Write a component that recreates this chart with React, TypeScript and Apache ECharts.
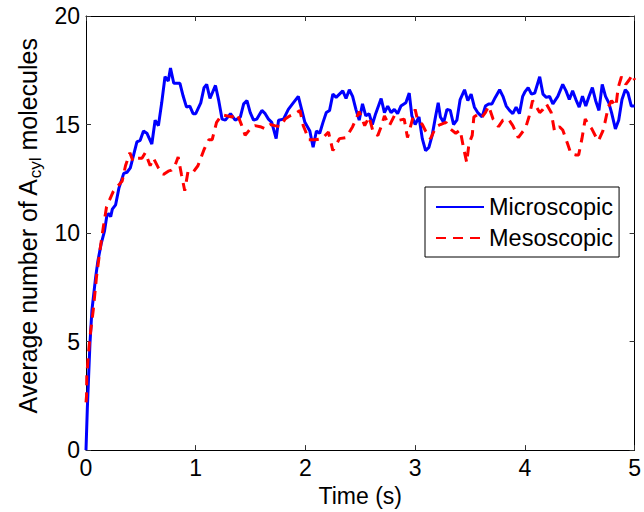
import React, { useEffect, useRef } from 'react';
import * as echarts from 'echarts';

const xTicks = [0, 1, 2, 3, 4, 5];
const yTicks = [0, 5, 10, 15, 20];
const seriesNames = ['Microscopic', 'Mesoscopic'];

const microT = [
  0, 0.012, 0.024, 0.036, 0.054, 0.088, 0.108, 0.138, 0.169, 0.19, 0.21, 0.225, 0.24, 0.27, 0.3,
  0.344, 0.374, 0.404, 0.434, 0.464, 0.494, 0.524, 0.555, 0.6, 0.63, 0.66, 0.69, 0.72, 0.75, 0.77,
  0.8, 0.826, 0.856, 0.886, 0.916, 0.946, 0.976, 1.0, 1.046, 1.076, 1.1, 1.13, 1.18, 1.21, 1.24,
  1.27, 1.317, 1.36, 1.407, 1.437, 1.467, 1.497, 1.527, 1.557, 1.603, 1.633, 1.663, 1.693, 1.733,
  1.755, 1.8, 1.844, 1.889, 1.935, 1.965, 1.995, 2.04, 2.07, 2.1, 2.13, 2.16, 2.19, 2.22, 2.25,
  2.28, 2.31, 2.34, 2.37, 2.4, 2.43, 2.46, 2.49, 2.52, 2.55, 2.58, 2.61, 2.64, 2.69, 2.72, 2.75,
  2.78, 2.81, 2.84, 2.87, 2.915, 2.946, 2.97, 3.0, 3.035, 3.065, 3.095, 3.125, 3.155, 3.185, 3.21,
  3.23, 3.26, 3.29, 3.32, 3.35, 3.38, 3.41, 3.45, 3.48, 3.51, 3.54, 3.57, 3.61, 3.64, 3.67, 3.7,
  3.73, 3.77, 3.8, 3.83, 3.86, 3.89, 3.92, 3.95, 3.98, 4.0, 4.03, 4.06, 4.09, 4.135, 4.165, 4.195,
  4.225, 4.255, 4.3, 4.345, 4.375, 4.405, 4.435, 4.465, 4.495, 4.525, 4.555, 4.585, 4.615, 4.645,
  4.675, 4.705, 4.735, 4.765, 4.79, 4.825, 4.855, 4.885, 4.915, 4.94, 4.97, 5.0,
];
const microV = [
  0, 1.9, 3.4, 4.9, 6.45, 7.97, 8.7, 9.5, 10.1, 10.8, 10.9, 10.75, 11.1, 11.3, 12.07,
  12.75, 12.8, 13.0, 13.6, 14.2, 14.27, 14.7, 14.6, 14.1, 15.2, 14.95, 16.0, 17.2, 17.0, 17.6,
  16.9, 16.9, 16.9, 16.3, 15.8, 15.85, 15.5, 15.5, 16.0, 16.7, 16.85, 16.2, 16.8, 16.1, 15.25,
  15.2, 15.5, 15.2, 15.35, 15.95, 16.1, 15.55, 15.2, 15.25, 15.65, 15.5, 15.25, 15.1, 14.35,
  15.2, 15.25, 15.7, 16.0, 16.3, 15.7, 15.1, 14.7, 13.95, 14.7, 14.6, 15.1, 15.55, 15.65, 16.4,
  16.25, 16.4, 16.55, 16.2, 16.6, 16.3, 15.7, 15.2, 15.95, 15.4, 15.5, 15.0, 15.5, 16.2, 15.55, 15.85,
  15.55, 15.7, 15.5, 15.85, 16.0, 16.45, 15.4, 15.0, 15.35, 14.35, 13.8, 13.95, 14.5, 15.35, 16.0,
  15.35, 15.1, 15.7, 15.65, 15.0, 15.2, 16.15, 16.6, 16.1, 16.4, 15.8, 15.55, 15.35, 15.85, 15.95, 15.95,
  16.25, 16.6, 16.3, 15.85, 15.65, 15.5, 15.8, 15.5, 16.3, 16.5, 16.7, 16.4, 16.45, 17.2, 16.4, 16.25,
  16.3, 15.95, 16.3, 16.85, 16.55, 16.15, 16.55, 16.15, 15.8, 16.3, 15.85, 16.3, 16.7, 16.1,
  15.65, 16.85, 16.3, 16.0, 15.55, 14.8, 15.2, 16.15, 16.6, 16.45, 15.85, 15.85,
];

const mesoT = [
  0, 0.005, 0.007, 0.02, 0.036, 0.066, 0.096, 0.127, 0.157, 0.187, 0.247, 0.28, 0.33, 0.36, 0.4,
  0.43, 0.464, 0.51, 0.54, 0.585, 0.615, 0.66, 0.705, 0.75, 0.78, 0.81, 0.84, 0.87, 0.9, 0.93,
  0.976, 1.02, 1.076, 1.12, 1.15, 1.19, 1.24, 1.287, 1.33, 1.377, 1.42, 1.45, 1.497, 1.54, 1.588,
  1.633, 1.678, 1.72, 1.77, 1.814, 1.86, 1.904, 1.95, 1.98, 2.0, 2.03, 2.09, 2.15, 2.21, 2.25,
  2.31, 2.37, 2.43, 2.49, 2.54, 2.58, 2.62, 2.66, 2.69, 2.72, 2.765, 2.81, 2.855, 2.9, 2.93, 2.96,
  3.0, 3.02, 3.065, 3.095, 3.14, 3.19, 3.23, 3.28, 3.32, 3.37, 3.41, 3.44, 3.47, 3.49, 3.52, 3.535,
  3.58, 3.61, 3.64, 3.67, 3.71, 3.76, 3.8, 3.85, 3.89, 3.94, 3.985, 4.01, 4.04, 4.07, 4.1, 4.135,
  4.165, 4.195, 4.24, 4.27, 4.315, 4.345, 4.39, 4.42, 4.465, 4.49, 4.52, 4.55, 4.58, 4.61, 4.65,
  4.67, 4.71, 4.73, 4.76, 4.79, 4.83, 4.85, 4.88, 4.92, 4.95, 4.98, 5.0,
];
const mesoV = [
  2.2, 2.5, 3.4, 4.3, 5.2, 6.45, 8.0, 9.2, 10.25, 11.2, 11.9, 12.1, 12.4, 13.1, 13.7,
  13.3, 13.45, 13.45, 13.7, 13.1, 13.45, 13.0, 12.7, 12.85, 12.9, 13.1, 13.5, 12.7, 11.95, 12.85,
  12.8, 13.1, 13.85, 14.3, 14.3, 15.1, 15.45, 15.4, 15.35, 15.5, 14.95, 14.5, 14.8, 14.95, 14.9,
  14.8, 15.0, 14.95, 14.9, 15.25, 15.4, 15.5, 15.65, 14.95, 14.7, 14.3, 14.3, 14.35, 14.65, 13.8,
  14.35, 14.4, 14.9, 15.6, 14.95, 15.35, 14.6, 14.5, 14.9, 15.4, 14.95, 15.4, 15.2, 15.25, 14.4, 14.95,
  15.7, 15.25, 15.0, 14.7, 14.35, 14.9, 15.0, 15.1, 14.8, 14.6, 14.75, 13.95, 13.25, 14.1, 14.5, 15.35,
  15.5, 15.35, 15.55, 15.85, 15.25, 14.9, 15.2, 15.25, 14.95, 14.4, 14.7, 14.9, 15.4, 16.1, 15.85, 15.55,
  15.7, 15.95, 15.55, 14.7, 14.9, 14.75, 14.1, 13.65, 13.6, 13.6, 14.35, 15.25, 15.0, 14.8, 14.4,
  14.25, 14.7, 15.1, 15.8, 16.1, 15.85, 16.7, 17.2, 16.85, 17.05, 17.3, 17.05,
];

const FONT = 'Liberation Sans, Arial, Helvetica, sans-serif';

export default function App() {
  const ref = useRef<HTMLDivElement>(null);
  useEffect(() => {
    const chart = echarts.init(ref.current as HTMLDivElement, undefined, { renderer: 'svg' });
    const microData = microT.map((t, i) => [t, microV[i]]);
    const mesoData = mesoT.map((t, i) => [t, mesoV[i]]);
    const tickStyle = { show: true, inside: true, length: 5, lineStyle: { color: '#333', width: 1 } };
    const lineAxis = { show: true, onZero: false, lineStyle: { color: '#000', width: 1 } };
    chart.setOption({
      animation: false,
      backgroundColor: '#fff',
      textStyle: { fontFamily: FONT },
      grid: { left: 86, right: 5, top: 16, bottom: 57, containLabel: false },
      legend: {
        data: seriesNames,
        orient: 'vertical',
        left: 425,
        top: 187,
        padding: [8, 6, 7, 10],
        itemGap: 7,
        itemWidth: 48,
        itemHeight: 14,
        borderColor: '#000',
        borderWidth: 1,
        backgroundColor: '#fff',
        itemStyle: { opacity: 0 },
        textStyle: { fontSize: 23.5, color: '#000', fontFamily: FONT },
      },
      xAxis: [
        {
          type: 'value',
          min: xTicks[0],
          max: xTicks[xTicks.length - 1],
          interval: 1,
          name: 'Time (s)',
          nameLocation: 'middle',
          nameGap: 28,
          nameTextStyle: { fontSize: 23, color: '#000', fontFamily: FONT },
          axisLine: lineAxis,
          axisTick: tickStyle,
          axisLabel: { fontSize: 23, color: '#000', margin: 6, fontFamily: FONT },
          splitLine: { show: false },
        },
        {
          type: 'value',
          position: 'top',
          min: xTicks[0],
          max: xTicks[xTicks.length - 1],
          interval: 1,
          axisLine: lineAxis,
          axisTick: tickStyle,
          axisLabel: { show: false },
          splitLine: { show: false },
        },
      ],
      yAxis: [
        {
          type: 'value',
          min: yTicks[0],
          max: yTicks[yTicks.length - 1],
          interval: 5,
          name: '{p|}{n|Average number of A}{s|cyl}{n| molecules}',
          nameLocation: 'middle',
          nameGap: 40,
          nameTextStyle: {
            color: '#000',
            fontFamily: FONT,
            rich: {
              p: { width: 14, lineHeight: 30 },
              n: { fontSize: 25, color: '#000', fontFamily: FONT, lineHeight: 32 },
              s: { fontSize: 17, color: '#000', fontFamily: FONT, verticalAlign: 'bottom', lineHeight: 17 },
            },
          },
          axisLine: lineAxis,
          axisTick: tickStyle,
          axisLabel: { fontSize: 23, color: '#000', margin: 6, fontFamily: FONT },
          splitLine: { show: false },
        },
        {
          type: 'value',
          position: 'right',
          min: yTicks[0],
          max: yTicks[yTicks.length - 1],
          interval: 5,
          axisLine: lineAxis,
          axisTick: tickStyle,
          axisLabel: { show: false },
          splitLine: { show: false },
        },
      ],
      series: [
        {
          name: seriesNames[0],
          type: 'line',
          data: microData,
          showSymbol: false,
          symbol: 'none',
          lineStyle: { color: '#0000ff', width: 3, type: 'solid' },
          itemStyle: { color: '#0000ff' },
        },
        {
          name: seriesNames[1],
          type: 'line',
          data: mesoData,
          showSymbol: false,
          symbol: 'none',
          lineStyle: { color: '#ff0000', width: 3, type: [10, 7] },
          itemStyle: { color: '#ff0000' },
        },
      ],
    });
    return () => chart.dispose();
  }, []);
  return <div ref={ref} style={{ position: 'absolute', left: 0, top: 0, width: 644, height: 512 }} />;
}
